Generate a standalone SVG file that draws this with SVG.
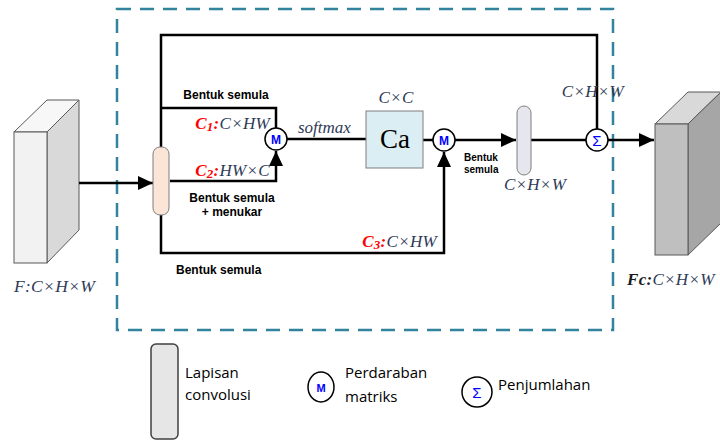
<svg xmlns="http://www.w3.org/2000/svg" width="720" height="443" viewBox="0 0 720 443">
<style>
.ln{fill:none;stroke:#000;stroke-width:2.5}
.cir{fill:#fff;stroke:#000;stroke-width:1.5}
.bl{font-family:"Liberation Sans",Arial,sans-serif;font-weight:bold;fill:#000}
.m{font-family:"Liberation Serif","Times New Roman",serif;font-style:italic;fill:#2E3A57}
.red{fill:#FF0000;font-weight:bold}
.lg{font-family:"Open Sans","Noto Sans",sans-serif;font-size:15px;fill:#000}
.mm{font-family:"Liberation Sans",Arial,sans-serif;font-weight:bold;fill:#0000FF;text-anchor:middle}
.cube{stroke:#595959;stroke-width:1}
</style>
<defs>
<marker id="ah" markerUnits="userSpaceOnUse" markerWidth="16" markerHeight="14" refX="15" refY="7" orient="auto">
<path d="M0,0 L15,7 L0,14 z" fill="#000"/>
</marker>
</defs>

<rect id="frame" x="117" y="9" width="496" height="321" fill="none" stroke="#31849B" stroke-width="2.5" stroke-dasharray="14,9"/>

<g id="input">
<polygon class="cube" points="14,132 47,100 79,100 47,132" fill="#F7F7F7"/>
<polygon class="cube" points="47,132 79,100 79,230 47,263" fill="#D9D9D9"/>
<rect class="cube" x="14" y="132" width="33" height="131" fill="#F2F2F2"/>
<text class="m" x="14" y="292" font-size="17.5" letter-spacing="0.3">F:C×H×W</text>
</g>

<g id="output">
<polygon class="cube" points="655,124 688,92 721,92 688,124" fill="#D9D9D9"/>
<polygon class="cube" points="688,124 721,92 721,223 688,255" fill="#A6A6A6"/>
<rect class="cube" x="655" y="124" width="33" height="131" fill="#BFBFBF"/>
<text class="m" x="627" y="285" font-size="17" letter-spacing="0.3"><tspan font-weight="bold" fill="#1a1a1a">Fc:</tspan>C×H×W</text>
</g>

<g id="connectors">
<path class="ln" d="M79,183 H153" marker-end="url(#ah)"/>
<path class="ln" d="M161,147 V35 H597 V129"/>
<path class="ln" d="M161,108 H276 V128"/>
<path class="ln" d="M170,181 H276 V151" marker-end="url(#ah)"/>
<path class="ln" d="M161,215 V253 H444 V152" marker-end="url(#ah)"/>
<path class="ln" d="M287,139 H366"/>
<path class="ln" d="M423,140 H433"/>
<path class="ln" d="M455,140 H516" marker-end="url(#ah)"/>
<path class="ln" d="M531,140 H586"/>
<path class="ln" d="M608,140 H654" marker-end="url(#ah)"/>
</g>

<g id="conv1">
<rect x="153" y="147" width="16" height="68" rx="7" fill="#FBE5D6" stroke="#7F7F7F" stroke-width="1"/>
</g>

<g id="m1">
<circle class="cir" cx="276" cy="139" r="11"/>
<text class="mm" x="276" y="143.5" font-size="12">M</text>
</g>

<g id="ca">
<rect x="366" y="111" width="57" height="57" fill="#DAEEF3" stroke="#7F7F7F" stroke-width="1"/>
<text x="395" y="148" font-family="Liberation Serif,serif" font-size="27" text-anchor="middle" fill="#000">Ca</text>
<text class="m" x="396" y="103" font-size="17" text-anchor="middle" letter-spacing="0.3">C×C</text>
</g>

<g id="m2">
<circle class="cir" cx="444" cy="140" r="11"/>
<text class="mm" x="444" y="144.5" font-size="12">M</text>
</g>

<g id="conv2">
<rect x="517" y="106" width="14" height="69" rx="7" fill="#E6E6EE" stroke="#7F7F7F" stroke-width="1"/>
<text class="m" x="535" y="190" font-size="17" text-anchor="middle" letter-spacing="0.3">C×H×W</text>
</g>

<g id="sum">
<circle class="cir" cx="597" cy="140" r="11"/>
<text x="597" y="146" font-family="Liberation Sans,Arial,sans-serif" font-size="15" fill="#0000FF" text-anchor="middle">Σ</text>
<text class="m" x="624" y="97" font-size="17" text-anchor="end" letter-spacing="0.3">C×H×W</text>
</g>

<g id="labels">
<text class="bl" x="226" y="99" font-size="12" text-anchor="middle">Bentuk semula</text>
<text class="m" x="270" y="129" font-size="17" text-anchor="end" letter-spacing="0.3"><tspan class="red">C<tspan font-size="13" dy="2">1</tspan><tspan dy="-2">:</tspan></tspan>C×HW</text>
<text class="m" x="270" y="176" font-size="17" text-anchor="end" letter-spacing="0.3"><tspan class="red">C<tspan font-size="13" dy="2">2</tspan><tspan dy="-2">:</tspan></tspan>HW×C</text>
<text class="bl" x="232" y="202" font-size="12" text-anchor="middle">Bentuk semula</text>
<text class="bl" x="232" y="216" font-size="12" text-anchor="middle">+ menukar</text>
<text class="m" x="298" y="133" font-size="17">softmax</text>
<text class="bl" x="464" y="161" font-size="10">Bentuk</text>
<text class="bl" x="464" y="173" font-size="10">semula</text>
<text class="m" x="437" y="247" font-size="17" text-anchor="end" letter-spacing="0.3"><tspan class="red">C<tspan font-size="13" dy="2">3</tspan><tspan dy="-2">:</tspan></tspan>C×HW</text>
<text class="bl" x="176" y="274" font-size="12">Bentuk semula</text>
</g>

<g id="legend">
<rect x="151" y="344" width="27" height="95" rx="5" fill="#E7E6E6" stroke="#404040" stroke-width="1.5"/>
<text class="lg" x="185" y="378">Lapisan</text>
<text class="lg" x="185" y="400">convolusi</text>
<ellipse class="cir" cx="321" cy="387" rx="13" ry="15"/>
<text class="mm" x="321" y="391.5" font-size="11">M</text>
<text class="lg" x="345" y="378">Perdaraban</text>
<text class="lg" x="345" y="402">matriks</text>
<ellipse class="cir" cx="477" cy="392" rx="15" ry="15"/>
<text x="477" y="398" font-family="Liberation Sans,Arial,sans-serif" font-size="15" fill="#0000FF" text-anchor="middle">Σ</text>
<text class="lg" x="498" y="390">Penjumlahan</text>
</g>
</svg>
